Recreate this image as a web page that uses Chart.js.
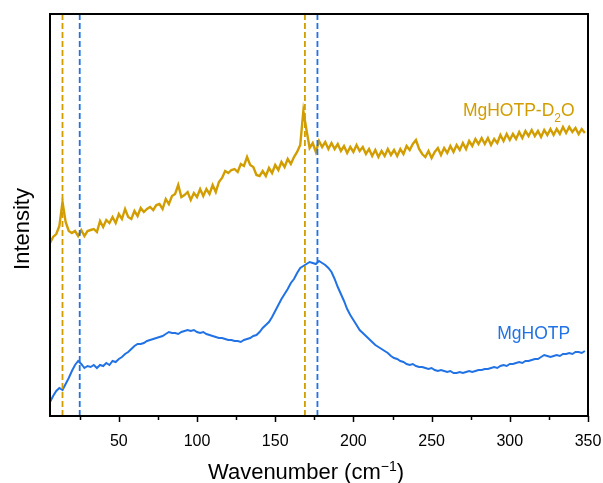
<!DOCTYPE html>
<html>
<head>
<meta charset="utf-8">
<script src="https://cdn.jsdelivr.net/npm/chart.js@4/dist/chart.umd.min.js"></script>
<style>
  html, body { margin: 0; padding: 0; background: #fff; }
  canvas { display: block; }
</style>
</head>
<body>
<canvas id="c" width="603" height="483"></canvas>
<script>
// Raman shift axis (cm^-1)
const wavenumber = [
  6, 8, 10, 12, 14, 16, 18, 20, 22, 24,
  26, 28, 30, 32, 34, 36, 38, 40, 42, 44,
  46, 48, 50, 52, 54, 56, 58, 60, 62, 64,
  66, 68, 70, 72, 74, 76, 78, 80, 82, 84,
  86, 88, 90, 92, 94, 96, 98, 100, 102, 104,
  106, 108, 110, 112, 114, 116, 118, 120, 122, 124,
  126, 128, 130, 132, 134, 136, 138, 140, 142, 144,
  146, 148, 150, 152, 154, 156, 158, 160, 162, 164,
  166, 168, 170, 172, 174, 176, 178, 180, 182, 184,
  186, 188, 190, 192, 194, 196, 198, 200, 202, 204,
  206, 208, 210, 212, 214, 216, 218, 220, 222, 224,
  226, 228, 230, 232, 234, 236, 238, 240, 242, 244,
  246, 248, 250, 252, 254, 256, 258, 260, 262, 264,
  266, 268, 270, 272, 274, 276, 278, 280, 282, 284,
  286, 288, 290, 292, 294, 296, 298, 300, 302, 304,
  306, 308, 310, 312, 314, 316, 318, 320, 322, 324,
  326, 328, 330, 332, 334, 336, 338, 340, 342, 344,
  346, 348
];

// MgHOTP spectrum (arb. units, offset)
const mghotp = [
  14, 20, 25, 28, 26, 32, 38, 45, 51, 55,
  52, 48, 50, 49, 51, 48, 51, 50, 53, 51,
  55, 54, 57, 59, 62, 64, 67, 70, 72, 72,
  73, 75, 76, 77, 78, 79, 80, 82, 84, 83,
  83, 82, 84, 85, 86, 85, 86, 84, 83, 84,
  82, 81, 80, 79, 78, 78, 77, 76, 76, 75,
  75, 74, 76, 77, 78, 80, 81, 84, 88, 91,
  94, 99, 105, 111, 117, 122, 127, 133, 137, 143,
  148, 150, 152, 154, 153, 152, 155, 153, 151, 148,
  144, 137, 129, 122, 115, 107, 101, 96, 91, 86,
  83, 80, 77, 74, 71, 69, 67, 65, 63, 60,
  58, 57, 55, 54, 52, 51, 52, 50, 49, 49,
  48, 47, 48, 46, 45, 46, 45, 44, 45, 43,
  43, 44, 43, 44, 45, 44, 45, 46, 46, 47,
  47, 48, 49, 48, 50, 51, 50, 52, 52, 53,
  54, 53, 55, 55, 56, 57, 57, 59, 61, 60,
  59, 60, 61, 60, 62, 62, 63, 62, 64, 64,
  63, 65
];

// MgHOTP-D2O spectrum (arb. units, offset)
const mghotpD2O = [
  173, 179, 182, 190, 214, 194, 185, 183, 185, 180,
  186, 180, 185, 186, 187, 184, 195, 189, 196, 193,
  199, 193, 202, 197, 207, 199, 197, 205, 200, 208,
  204, 207, 209, 206, 211, 212, 207, 217, 212, 220,
  222, 231, 219, 221, 224, 216, 223, 219, 227, 220,
  227, 222, 231, 224, 234, 238, 245, 243, 246, 247,
  244, 252, 250, 259, 251, 249, 241, 240, 245, 240,
  248, 243, 251, 246, 254, 249, 257, 252, 259, 264,
  271, 305, 286, 268, 273, 264, 275, 269, 274, 267,
  273, 267, 272, 265, 270, 263, 269, 264, 271, 265,
  269, 262, 267, 260, 266, 259, 265, 260, 267, 261,
  266, 260, 267, 262, 270, 266, 272, 276, 267, 262,
  259, 265, 258, 264, 268, 261, 268, 263, 270, 264,
  271, 266, 273, 267, 275, 270, 277, 272, 278, 272,
  278, 271, 277, 273, 281, 275, 282, 276, 282, 277,
  284, 278, 285, 280, 286, 280, 285, 279, 286, 281,
  287, 281, 287, 282, 289, 283, 289, 284, 288, 282,
  287, 283
];

// Reference band positions (cm^-1)
const bandsD2O = [14, 169];
const bandsH2O = [25, 177];

// Axis limits
const xMin = 6, xMax = 350;
const yMin = 0, yMax = 402;
const xTickStep = 25;

const GOLD = '#D29D00';
const BLUE = '#2172E4';
const FONT = '"Liberation Sans", Arial, Helvetica, sans-serif';

// In-plot series names, anchored in data units
const seriesNames = [
  { x: 270, y: 300, color: GOLD, parts: [
    { text: 'MgHOTP-D', size: 17.5 },
    { text: '2', size: 12, shift: 6 },
    { text: 'O', size: 17.5 }
  ] },
  { x: 292, y: 77, color: BLUE, parts: [
    { text: 'MgHOTP', size: 17.5 }
  ] }
];

const toPoints = (xs, ys) => xs.map((x, i) => ({ x, y: ys[i] }));
const vline = (x) => [{ x, y: yMin }, { x, y: yMax }];

const datasets = [];
bandsD2O.forEach(b => datasets.push({
  data: vline(b), borderColor: GOLD, borderWidth: 1.8, borderDash: [6, 3],
  pointRadius: 0, order: 0
}));
bandsH2O.forEach(b => datasets.push({
  data: vline(b), borderColor: BLUE, borderWidth: 1.8, borderDash: [6, 3],
  pointRadius: 0, order: 0
}));
datasets.push({
  label: 'MgHOTP-D2O', data: toPoints(wavenumber, mghotpD2O),
  borderColor: GOLD, borderWidth: 2.4, pointRadius: 0, tension: 0, order: 1
});
datasets.push({
  label: 'MgHOTP', data: toPoints(wavenumber, mghotp),
  borderColor: BLUE, borderWidth: 2, pointRadius: 0, tension: 0, order: 1
});

// Frame, tick marks, axis titles and series names
const decor = {
  id: 'decor',
  afterDraw(chart) {
    const { ctx, chartArea: a, scales: { x, y } } = chart;
    ctx.save();

    ctx.strokeStyle = '#000';
    ctx.lineWidth = 2;
    ctx.strokeRect(a.left, a.top, a.right - a.left, a.bottom - a.top);

    ctx.lineWidth = 1.5;
    x.ticks.forEach(t => {
      const px = Math.round(x.getPixelForValue(t.value)) + 0.5;
      const len = t.value % 50 === 0 ? 6 : 4;
      ctx.beginPath();
      ctx.moveTo(px, a.bottom);
      ctx.lineTo(px, a.bottom + len);
      ctx.stroke();
    });

    // x title with superscript
    ctx.fillStyle = '#000';
    ctx.textBaseline = 'alphabetic';
    ctx.textAlign = 'left';
    const mainFont = '22px ' + FONT, supFont = '14px ' + FONT;
    const t1 = 'Wavenumber (cm', t2 = '\u22121', t3 = ')';
    ctx.font = mainFont; const w1 = ctx.measureText(t1).width, w3 = ctx.measureText(t3).width;
    ctx.font = supFont; const w2 = ctx.measureText(t2).width;
    const cx = (a.left + a.right) / 2 - 13;
    const base = a.bottom + 63;
    let sx = cx - (w1 + w2 + w3) / 2;
    ctx.font = mainFont; ctx.fillText(t1, sx, base); sx += w1;
    ctx.font = supFont; ctx.fillText(t2, sx, base - 8); sx += w2;
    ctx.font = mainFont; ctx.fillText(t3, sx, base);

    // y title
    ctx.save();
    ctx.translate(a.left - 21, (a.top + a.bottom) / 2 + 14);
    ctx.rotate(-Math.PI / 2);
    ctx.textAlign = 'center';
    ctx.font = mainFont;
    ctx.fillText('Intensity', 0, 0);
    ctx.restore();

    // series names
    ctx.textAlign = 'left';
    seriesNames.forEach(l => {
      let px = x.getPixelForValue(l.x);
      const py = y.getPixelForValue(l.y);
      ctx.fillStyle = l.color;
      l.parts.forEach(p => {
        ctx.font = p.size + 'px ' + FONT;
        ctx.fillText(p.text, px, py + (p.shift || 0));
        px += ctx.measureText(p.text).width;
      });
    });

    ctx.restore();
  }
};

new Chart(document.getElementById('c'), {
  type: 'line',
  data: { datasets },
  plugins: [decor],
  options: {
    responsive: false,
    animation: false,
    events: [],
    layout: { padding: { left: 50, right: 15, top: 14, bottom: 0 } },
    plugins: {
      legend: { display: false },
      tooltip: { enabled: false }
    },
    scales: {
      x: {
        type: 'linear',
        min: xMin, max: xMax,
        grid: { display: false },
        border: { display: false },
        ticks: {
          stepSize: xTickStep,
          includeBounds: false,
          autoSkip: false,
          maxRotation: 0,
          padding: 8,
          color: '#000',
          font: { family: FONT, size: 16 },
          callback: v => (v % 50 === 0 ? String(v) : '')
        },
        afterFit: s => { s.height = 67; s.paddingLeft = 0; s.paddingRight = 0; }
      },
      y: {
        type: 'linear',
        display: false,
        min: yMin, max: yMax
      }
    }
  }
});
</script>
</body>
</html>
